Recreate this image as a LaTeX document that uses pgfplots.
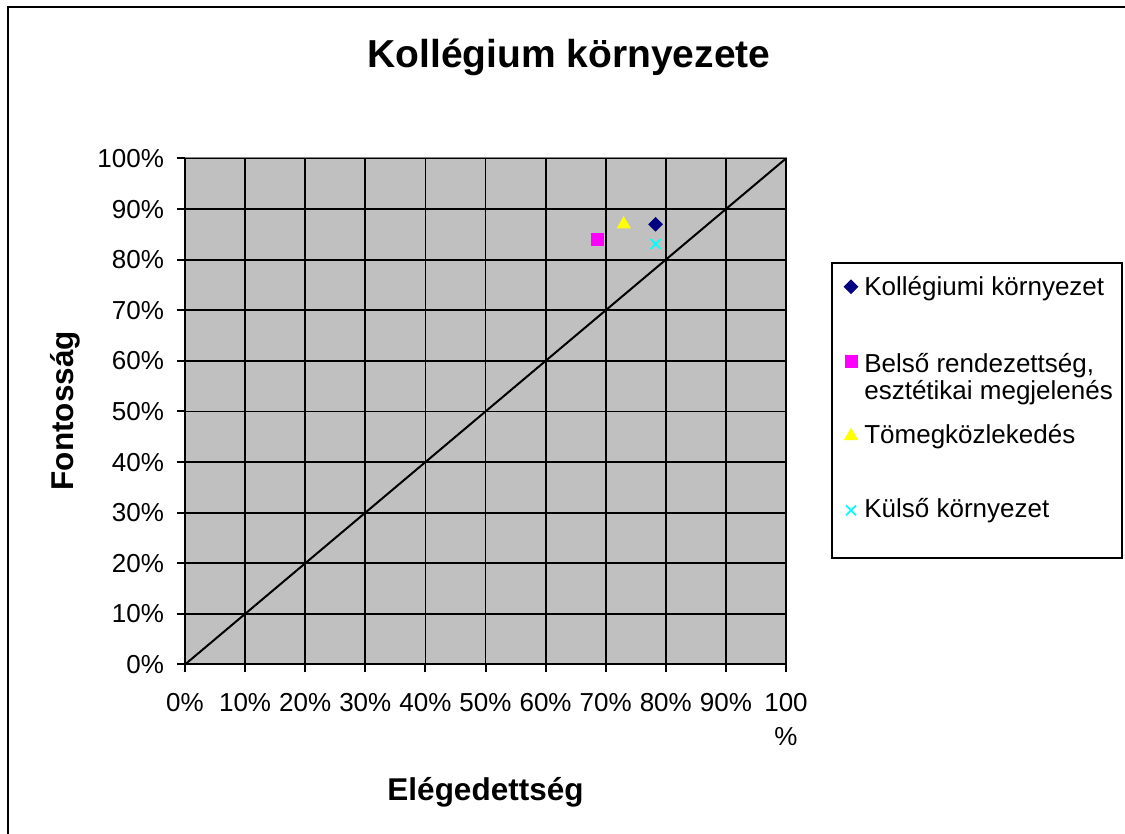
\documentclass[border=0pt]{standalone}
\usepackage{fontspec}
\setmainfont{Liberation Sans}
\usepackage{pgfplots}
\pgfplotsset{compat=1.18}
\definecolor{plotgray}{RGB}{192,192,192}
\definecolor{bordergray}{RGB}{128,128,128}
\definecolor{navyc}{RGB}{0,0,128}
\definecolor{magc}{RGB}{255,0,255}
\definecolor{yelc}{RGB}{255,255,0}
\definecolor{cyac}{RGB}{0,255,255}
\begin{document}
\begin{tikzpicture}
\path[use as bounding box] (0pt,0pt) rectangle (562.5pt,417pt);
\draw[line width=1pt] (4pt,-10pt) rectangle (575pt,413.5pt);
\begin{axis}[
  at={(92.5pt,84.75pt)}, anchor=south west,
  scale only axis, width=300.5pt, height=253pt,
  xmin=0, xmax=100, ymin=0, ymax=100,
  enlargelimits=false,
  axis x line*=bottom, axis y line*=left,
  axis line style={black, line width=1pt},
  axis background/.style={fill=plotgray, draw=bordergray, line width=1pt},
  grid=major,
  major grid style={black, line width=0.9pt},
  tick align=outside,
  major tick length=4pt,
  tick style={black, line width=1pt},
  xtick={0,10,...,100}, ytick={0,10,...,100},
  xticklabels={0\%,10\%,20\%,30\%,40\%,50\%,60\%,70\%,80\%,90\%,{100\\\%}},
  yticklabels={0\%,10\%,20\%,30\%,40\%,50\%,60\%,70\%,80\%,90\%,100\%},
  tick label style={font=\fontsize{13}{16.65}\selectfont},
  xticklabel style={align=center, inner sep=0pt, anchor=north, yshift=-10.4pt},
  yticklabel style={inner sep=0pt, anchor=east, xshift=-6.35pt},
  title={Kollégium környezete},
  title style={font=\fontsize{19.5}{22}\selectfont\bfseries, at={(axis description cs:0.6389,1.1557)}, anchor=base, yshift=0pt, inner sep=0pt},
  xlabel={Elégedettség},
  xlabel style={font=\fontsize{15.75}{18}\selectfont\bfseries, at={(axis description cs:0.5,-0.2678)}, anchor=base, inner sep=0pt},
  ylabel={Fontosság},
  ylabel style={font=\fontsize{15.75}{18}\selectfont\bfseries, at={(axis description cs:-0.1859,0.5014)}, anchor=base, inner sep=0pt},
  legend style={at={(axis description cs:1.0744,0.7960)}, anchor=north west,
    draw=black, line width=1pt, fill=white,
    inner sep=0pt, row sep=0pt, column sep=0pt,
    font=\fontsize{13}{13.35}\selectfont,
    nodes={inner sep=0pt},
    cells={anchor=base west}},
]
\addplot[black, line width=1pt, forget plot] coordinates {(0,0) (100,100)};
\addplot[only marks, mark=square*, mark size=2.35pt, mark options={rotate=45, fill=navyc, draw=navyc, line width=0.5pt},
  legend image code/.code={\path[draw=none,fill=none] (0pt,-10pt) rectangle (16.3pt,0pt); \draw plot coordinates {(9.65pt,4.3pt)};}]
  coordinates {(78.3,87.0)};
\addlegendentry{\rule{0pt}{16.3pt}Kollégiumi környezet}
\addplot[only marks, mark=square*, mark size=3pt, mark options={fill=magc, draw=magc, line width=0.5pt},
  legend image code/.code={\path[draw=none,fill=none] (0pt,-22.3pt) rectangle (16.3pt,0pt); \draw plot coordinates {(9.65pt,5.6pt)};}]
  coordinates {(68.7,83.9)};
\addlegendentry{\begin{tabular}[t]{@{}l@{}}\rule{0pt}{28.7pt}Belső rendezettség,\\esztétikai megjelenés\rule{4.65pt}{0pt}\end{tabular}}
\addplot[only marks, mark=triangle*, mark size=3.6pt, mark options={fill=yelc, draw=yelc, line width=0.5pt},
  legend image code/.code={\path[draw=none,fill=none] (0pt,-18.6pt) rectangle (16.3pt,0pt); \draw plot coordinates {(9.65pt,3.7pt)};}]
  coordinates {(73.0,87.0)};
\addlegendentry{\rule{0pt}{13pt}Tömegközlekedés}
\addplot[only marks, mark=x, mark size=3.5pt, mark options={draw=cyac, line width=0.9pt},
  legend image code/.code={\path[draw=none,fill=none] (0pt,-20pt) rectangle (16.3pt,0pt); \draw plot coordinates {(9.65pt,3.7pt)};}]
  coordinates {(78.3,83.1)};
\addlegendentry{\rule{0pt}{18.6pt}Külső környezet}
\end{axis}
\end{tikzpicture}
\end{document}
